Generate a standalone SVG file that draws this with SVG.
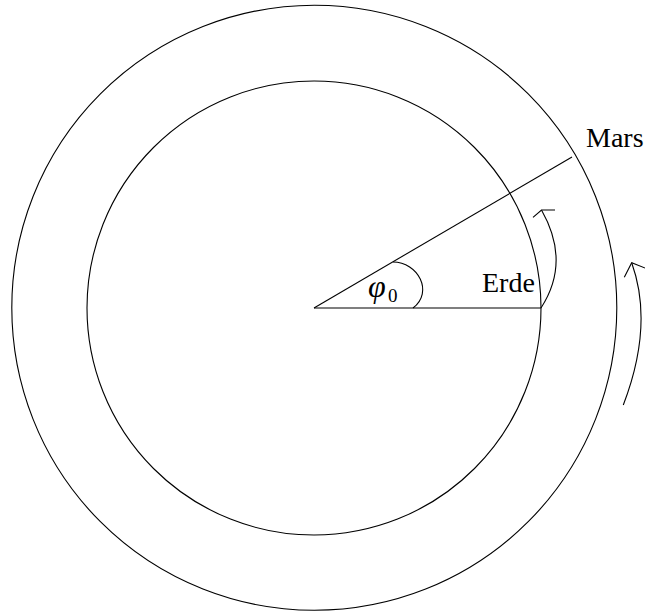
<svg xmlns="http://www.w3.org/2000/svg" width="645" height="612" viewBox="0 0 645 612">
<style>
.l{fill:none;stroke:#000;stroke-width:1.1}
.t{font-family:"Liberation Serif","Times New Roman",serif;fill:#000}
</style>
<rect width="645" height="612" fill="#fff"/>
<g id="mars-orbit"><circle class="l" cx="314.3" cy="307.8" r="302.5"/></g>
<g id="earth-orbit"><circle class="l" cx="314" cy="308" r="227"/></g>
<g id="connectors">
<line class="l" x1="314" y1="308" x2="541" y2="308"/>
<line class="l" x1="314" y1="308" x2="572" y2="157"/>
<path class="l" d="M393 262 C418 262 434 292 413 308"/>
<path class="l" d="M541 308 Q571 262 541.5 210"/>
<path class="l" d="M555 210 L541.5 210 L533 217.3"/>
<path class="l" d="M623.3 405 Q654 325 631.7 262.7"/>
<path class="l" d="M624.3 277.3 L631.7 262.7 L647 268.8"/>
</g>
<g id="label-erde"><text class="t" x="482" y="292" font-size="28">Erde</text></g>
<g id="label-mars"><text class="t" x="586" y="147" font-size="28">Mars</text></g>
<g id="label-phi"><text class="t" x="368" y="297" font-size="32" font-style="italic">φ<tspan font-style="normal" font-size="19" x="388" y="302">0</tspan></text></g>
</svg>
